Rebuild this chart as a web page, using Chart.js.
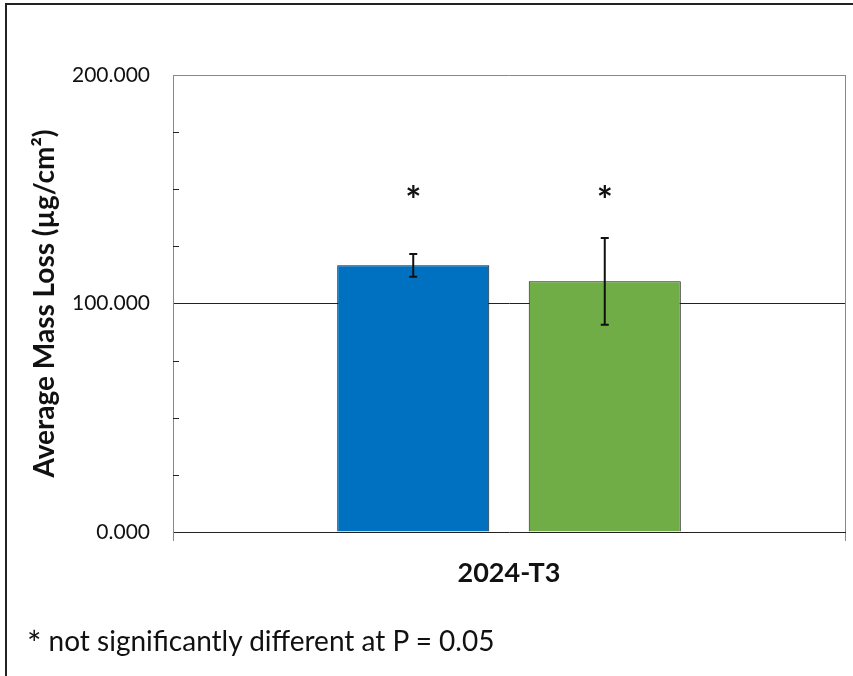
<!DOCTYPE html>
<html>
<head>
<meta charset="utf-8">
<script src="https://cdn.jsdelivr.net/npm/chart.js@4.4.1/dist/chart.umd.min.js"></script>
<style>
  html, body { margin: 0; padding: 0; background: #fff; }
  #wrap { position: relative; width: 853px; height: 676px; overflow: hidden; }
  #frame { position: absolute; left: 5px; top: 3px; width: 900px; height: 700px;
           border-left: 2px solid #222; border-top: 2px solid #222; }
  #note { position: absolute; left: 27px; top: 621px; font-family: Lato, sans-serif;
          font-size: 28px; line-height: 34px; color: #111; white-space: nowrap; }
  #note .star { font-size: 34px; position: relative; top: 5px; }
</style>
</head>
<body>
<div id="wrap">
  <canvas id="massChart" width="853" height="676"></canvas>
  <div id="frame"></div>
  <div id="note"><span class="star">*</span> not significantly different at P = 0.05</div>
</div>
<script>
const categories = ['2024-T3'];
const seriesNames = ['Alloy A', 'Alloy B'];
const blueValues = [116.7];
const greenValues = [109.7];
const blueErr = [5.0];
const greenErr = [19.0];
const starLevel = [150, 150];
const majorTicks = [0, 100, 200];

// error bars drawn from the value arrays through the y scale
const errorBars = {
  id: 'errorBars',
  afterDatasetsDraw(chart) {
    const ctx = chart.ctx;
    const y = chart.scales.y;
    const errs = [blueErr, greenErr];
    chart.data.datasets.forEach((ds, i) => {
      const meta = chart.getDatasetMeta(i);
      meta.data.forEach((bar, j) => {
        const v = ds.data[j];
        const top = y.getPixelForValue(v + errs[i][j]);
        const bot = y.getPixelForValue(v - errs[i][j]);
        ctx.save();
        ctx.strokeStyle = '#111';
        ctx.lineWidth = 2;
        ctx.beginPath();
        ctx.moveTo(bar.x, top); ctx.lineTo(bar.x, bot);
        ctx.moveTo(bar.x - 4, top); ctx.lineTo(bar.x + 4, top);
        ctx.moveTo(bar.x - 4, bot); ctx.lineTo(bar.x + 4, bot);
        ctx.stroke();
        // significance marker
        ctx.fillStyle = '#111';
        ctx.font = 'bold 38px Lato, sans-serif';
        ctx.textAlign = 'center';
        ctx.textBaseline = 'alphabetic';
        ctx.fillText('*', bar.x, y.getPixelForValue(starLevel[i]) + 25);
        ctx.restore();
      });
    });
  }
};

// small inside tick marks between the labelled values
const minorTicks = {
  id: 'minorTicks',
  afterDraw(chart) {
    const ctx = chart.ctx;
    const y = chart.scales.y;
    const x0 = chart.chartArea.left;
    ctx.save();
    ctx.strokeStyle = '#222';
    ctx.lineWidth = 1;
    y.ticks.forEach(t => {
      if (t.value % 100 === 0) return;
      const py = Math.round(y.getPixelForValue(t.value)) + 0.5;
      ctx.beginPath();
      ctx.moveTo(x0, py); ctx.lineTo(x0 + 6, py);
      ctx.stroke();
    });
    ctx.restore();
  }
};

new Chart(document.getElementById('massChart'), {
  type: 'bar',
  data: {
    labels: categories,
    datasets: [
      { label: seriesNames[0], data: blueValues, backgroundColor: '#0070C0',
        borderColor: '#1a1a1a', borderWidth: 1 },
      { label: seriesNames[1], data: greenValues, backgroundColor: '#70AD47',
        borderColor: '#1a1a1a', borderWidth: 1 }
    ]
  },
  options: {
    responsive: false,
    animation: false,
    categoryPercentage: 0.57,
    barPercentage: 0.794,
    layout: { padding: { left: 0, right: 8, top: 75, bottom: 0 } },
    plugins: { legend: { display: false }, tooltip: { enabled: false } },
    scales: {
      x: {
        afterFit: s => { s.height = 144; },
        border: { color: '#222', width: 1 },
        grid: { offset: true, color: '#888', tickLength: 9, drawTicks: true },
        ticks: { padding: 16, color: '#111',
                 font: { family: 'Lato', size: 27, weight: 'bold' } }
      },
      y: {
        min: 0, max: 200,
        afterFit: s => { s.width = 173; },
        border: { color: '#888', width: 1 },
        grid: {
          drawTicks: false,
          color: c => c.tick.value === 100 ? '#222' : (c.tick.value === 200 ? '#888' : 'rgba(0,0,0,0)')
        },
        ticks: {
          stepSize: 25, padding: 23, color: '#111',
          font: { family: 'Lato', size: 21 },
          callback: v => majorTicks.includes(v) ? v.toFixed(3) : ''
        },
        title: {
          display: true, text: 'Average Mass Loss (µg/cm²)', color: '#111',
          font: { family: 'Lato', size: 28, weight: 'bold' },
          padding: { top: 28, bottom: 0 }
        }
      }
    }
  },
  plugins: [errorBars, minorTicks]
});
</script>
</body>
</html>
